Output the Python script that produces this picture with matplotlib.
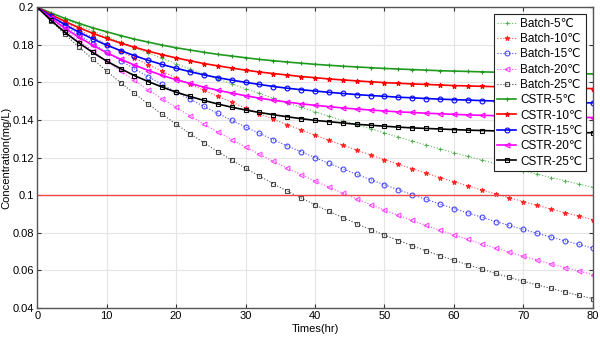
import matplotlib
matplotlib.use("Agg")
from matplotlib import pyplot as plt
from matplotlib.ticker import FuncFormatter

plt.rcParams['font.family'] = ['Liberation Sans', 'DejaVu Sans']

# time axis (hr), one point every 2 hours
times = list(range(0, 81, 2))

batch_5 = [0.2000, 0.1968, 0.1936, 0.1905, 0.1874, 0.1844, 0.1814, 0.1784, 0.1756, 0.1727,
           0.1699, 0.1672, 0.1645, 0.1618, 0.1592, 0.1566, 0.1541, 0.1516, 0.1491, 0.1467,
           0.1444, 0.1420, 0.1397, 0.1375, 0.1353, 0.1331, 0.1309, 0.1288, 0.1267, 0.1247,
           0.1226, 0.1207, 0.1187, 0.1168, 0.1149, 0.1130, 0.1112, 0.1094, 0.1077, 0.1059, 0.1042]
batch_10 = [0.2000, 0.1959, 0.1919, 0.1879, 0.1840, 0.1803, 0.1765, 0.1729, 0.1693, 0.1659,
            0.1624, 0.1591, 0.1558, 0.1526, 0.1495, 0.1464, 0.1434, 0.1404, 0.1375, 0.1347,
            0.1319, 0.1292, 0.1266, 0.1240, 0.1214, 0.1189, 0.1165, 0.1141, 0.1117, 0.1094,
            0.1072, 0.1050, 0.1028, 0.1007, 0.0986, 0.0966, 0.0946, 0.0926, 0.0907, 0.0889, 0.0870]
batch_15 = [0.2000, 0.1950, 0.1900, 0.1852, 0.1806, 0.1760, 0.1716, 0.1672, 0.1630, 0.1589,
            0.1549, 0.1510, 0.1472, 0.1435, 0.1398, 0.1363, 0.1329, 0.1295, 0.1262, 0.1231,
            0.1200, 0.1169, 0.1140, 0.1111, 0.1083, 0.1056, 0.1029, 0.1003, 0.0978, 0.0953,
            0.0929, 0.0906, 0.0883, 0.0860, 0.0839, 0.0818, 0.0797, 0.0777, 0.0757, 0.0738, 0.0719]
batch_20 = [0.2000, 0.1939, 0.1880, 0.1822, 0.1767, 0.1713, 0.1660, 0.1610, 0.1560, 0.1513,
            0.1467, 0.1422, 0.1378, 0.1336, 0.1296, 0.1256, 0.1218, 0.1180, 0.1144, 0.1109,
            0.1075, 0.1043, 0.1011, 0.0980, 0.0950, 0.0921, 0.0893, 0.0866, 0.0839, 0.0813,
            0.0789, 0.0765, 0.0741, 0.0719, 0.0697, 0.0675, 0.0655, 0.0635, 0.0615, 0.0597, 0.0578]
batch_25 = [0.2000, 0.1927, 0.1856, 0.1788, 0.1723, 0.1660, 0.1599, 0.1541, 0.1484, 0.1430,
            0.1378, 0.1327, 0.1279, 0.1232, 0.1187, 0.1143, 0.1102, 0.1061, 0.1022, 0.0985,
            0.0949, 0.0914, 0.0881, 0.0849, 0.0817, 0.0788, 0.0759, 0.0731, 0.0704, 0.0678,
            0.0654, 0.0630, 0.0607, 0.0584, 0.0563, 0.0542, 0.0523, 0.0504, 0.0485, 0.0467, 0.0450]

cstr_5 = [0.2000, 0.1969, 0.1940, 0.1914, 0.1890, 0.1869, 0.1849, 0.1830, 0.1814, 0.1798,
          0.1784, 0.1772, 0.1760, 0.1749, 0.1740, 0.1731, 0.1722, 0.1715, 0.1708, 0.1702,
          0.1696, 0.1691, 0.1686, 0.1682, 0.1678, 0.1674, 0.1671, 0.1668, 0.1665, 0.1662,
          0.1660, 0.1658, 0.1656, 0.1654, 0.1652, 0.1651, 0.1650, 0.1648, 0.1647, 0.1646, 0.1645]
cstr_10 = [0.2000, 0.1960, 0.1924, 0.1891, 0.1861, 0.1834, 0.1809, 0.1787, 0.1766, 0.1747,
           0.1730, 0.1715, 0.1700, 0.1688, 0.1676, 0.1665, 0.1655, 0.1647, 0.1639, 0.1631,
           0.1625, 0.1618, 0.1613, 0.1608, 0.1603, 0.1599, 0.1595, 0.1592, 0.1589, 0.1586,
           0.1583, 0.1581, 0.1579, 0.1577, 0.1575, 0.1573, 0.1572, 0.1570, 0.1569, 0.1568, 0.1567]
cstr_15 = [0.2000, 0.1951, 0.1907, 0.1867, 0.1831, 0.1798, 0.1769, 0.1742, 0.1717, 0.1695,
           0.1675, 0.1657, 0.1640, 0.1625, 0.1612, 0.1600, 0.1589, 0.1578, 0.1569, 0.1561,
           0.1554, 0.1547, 0.1541, 0.1535, 0.1530, 0.1526, 0.1521, 0.1518, 0.1514, 0.1511,
           0.1508, 0.1506, 0.1503, 0.1501, 0.1500, 0.1498, 0.1496, 0.1495, 0.1494, 0.1492, 0.1491]
cstr_20 = [0.2000, 0.1941, 0.1888, 0.1840, 0.1797, 0.1758, 0.1723, 0.1692, 0.1663, 0.1637,
           0.1614, 0.1594, 0.1575, 0.1558, 0.1543, 0.1529, 0.1516, 0.1505, 0.1495, 0.1486,
           0.1478, 0.1471, 0.1464, 0.1458, 0.1453, 0.1448, 0.1443, 0.1440, 0.1436, 0.1433,
           0.1430, 0.1427, 0.1425, 0.1423, 0.1421, 0.1419, 0.1418, 0.1416, 0.1415, 0.1414, 0.1413]
cstr_25 = [0.2000, 0.1929, 0.1866, 0.1810, 0.1759, 0.1713, 0.1673, 0.1636, 0.1604, 0.1575,
           0.1548, 0.1525, 0.1504, 0.1485, 0.1468, 0.1453, 0.1440, 0.1428, 0.1417, 0.1407,
           0.1398, 0.1391, 0.1384, 0.1377, 0.1372, 0.1367, 0.1362, 0.1358, 0.1355, 0.1352,
           0.1349, 0.1346, 0.1344, 0.1342, 0.1340, 0.1338, 0.1337, 0.1335, 0.1334, 0.1333, 0.1332]

temps = ['5', '10', '15', '20', '25']
colors = ['#1f9a1f', '#ff0000', '#0000ff', '#ff00ff', '#000000']
markers = ['+', '*', 'o', '<', 's']
batch = [batch_5, batch_10, batch_15, batch_20, batch_25]
cstr = [cstr_5, cstr_10, cstr_15, cstr_20, cstr_25]
limit = 0.1

fig = plt.figure(figsize=(6, 3.4), dpi=100)
ax = fig.add_axes([0.062, 0.094, 0.926, 0.885])

for i in range(5):
    ax.plot(times, batch[i], linestyle=':', color=colors[i], lw=0.8, alpha=0.7,
            marker=markers[i], ms=3.5, mfc='none' if markers[i] in 'o<s' else colors[i],
            mec=colors[i], mew=0.8, label='Batch-' + temps[i] + '℃')
for i in range(5):
    ax.plot(times, cstr[i], linestyle='-', color=colors[i], lw=1.2,
            marker=markers[i], ms=3.5, mfc='none' if markers[i] in 'o<s' else colors[i],
            mec=colors[i], mew=0.8, label='CSTR-' + temps[i] + '℃')

ax.axhline(limit, color='#f04848', lw=1.0)

ax.set_xlim(0, 80)
ax.set_ylim(0.04, 0.2)
ax.set_xticks(range(0, 81, 10))
ax.set_yticks([0.04, 0.06, 0.08, 0.1, 0.12, 0.14, 0.16, 0.18, 0.2])
ax.yaxis.set_major_formatter(FuncFormatter(lambda v, p: '%g' % round(v, 3)))
ax.grid(True, color='#e4e4e4', lw=0.8)
ax.set_axisbelow(True)
ax.tick_params(direction='in', top=True, right=True, labelsize=8, length=3,
               color='#333333', pad=2)
for s in ax.spines.values():
    s.set_color('#555555')
    s.set_linewidth(1.0)

ax.set_xlabel('Times(hr)', fontsize=8, labelpad=2)
ax.set_ylabel('Concentration(mg/L)', fontsize=8, labelpad=1)

leg = ax.legend(loc='upper right', fontsize=8.5, frameon=True, fancybox=False,
                edgecolor='#222222', framealpha=1, handlelength=1.6,
                labelspacing=0.28, borderpad=0.3, handletextpad=0.3,
                borderaxespad=0.6)
leg.get_frame().set_linewidth(0.8)

plt.savefig('out.png', dpi=100)
